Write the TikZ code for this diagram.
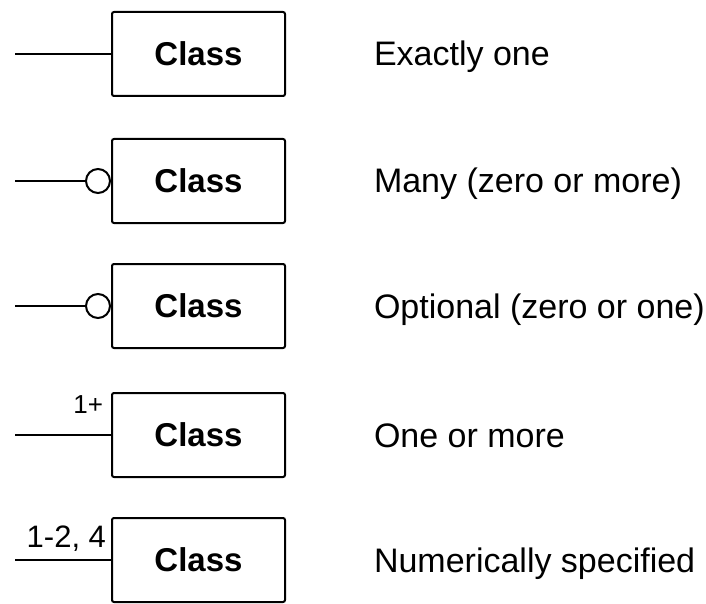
\documentclass[tikz,border=0pt]{standalone}
\usepackage{fontspec}
\setmainfont{Liberation Sans}
\begin{document}
\begin{tikzpicture}[x=1pt,y=-1pt,line width=2pt,
  classbox/.style={draw,rounded corners=2pt,minimum width=173pt,minimum height=84pt,
    inner sep=0pt,font=\fontsize{33}{38}\selectfont\bfseries},
  ring/.style={draw,circle,minimum size=24pt,inner sep=0pt,line width=2pt},
  meaning/.style={anchor=base west,inner sep=0pt,font=\fontsize{34}{40}\selectfont},
  mult/.style={anchor=base east,inner sep=0pt,font=\fontsize{#1}{#1}\selectfont}]
  \useasboundingbox (0,0) rectangle (706,604);

  % Exactly one
  \node[classbox] (b1) at (198.5,54) {Class};
  \coordinate (s1) at (15,54);
  \draw (s1) -- (b1.west);
  \node[meaning] (t1) at (373,66) {Exactly one};

  % Many
  \node[classbox] (b2) at (198.5,181) {Class};
  \coordinate (s2) at (15,181);
  \node[ring,anchor=east] (c2) at (b2.west) {};
  \draw (s2) -- (c2.west);
  \node[meaning] (t2) at (373,193) {Many (zero or more)};

  % Optional
  \node[classbox] (b3) at (198.5,306) {Class};
  \coordinate (s3) at (15,306);
  \node[ring,anchor=east] (c3) at (b3.west) {};
  \draw (s3) -- (c3.west);
  \node[meaning] (t3) at (373,318) {Optional (zero or one)};

  % One or more
  \node[classbox] (b4) at (198.5,435) {Class};
  \coordinate (s4) at (15,435);
  \draw (s4) -- (b4.west);
  \node[mult=26] (m4) at (104,413) {1+};
  \node[meaning] (t4) at (373,447) {One or more};

  % Numerically specified
  \node[classbox] (b5) at (198.5,560) {Class};
  \coordinate (s5) at (15,560);
  \draw (s5) -- (b5.west);
  \node[mult=31] (m5) at (107,547) {1-2, 4};
  \node[meaning] (t5) at (373,572) {Numerically specified};
\end{tikzpicture}
\end{document}
